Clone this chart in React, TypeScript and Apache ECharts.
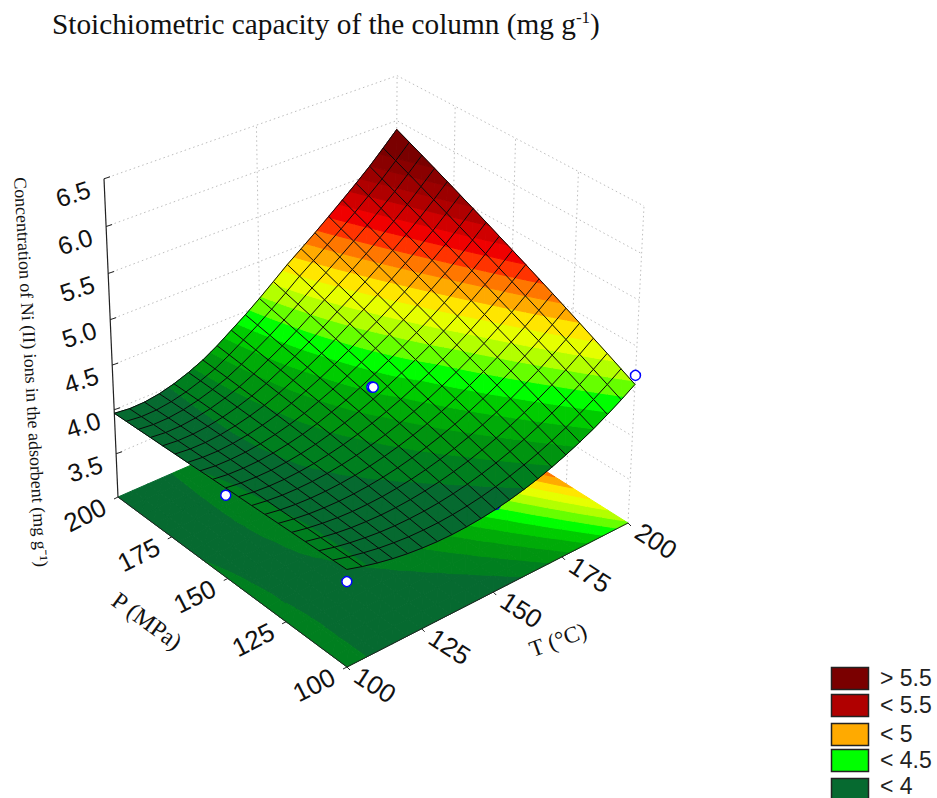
import React, { useEffect, useRef } from "react";
import * as echarts from "echarts";

const T_TICKS = [100, 125, 150, 175, 200];
const P_TICKS = [100, 125, 150, 175, 200];
const Z_TICKS = [3.5, 4.0, 4.5, 5.0, 5.5, 6.0, 6.5];
const Z_FLOOR = 3;
const Z_TOP = 6.5;
const NT = 20, NP = 18;
// rows: P from 100 to 200, columns: T from 100 to 200
const Z_TABLE: number[][] = [
[4.060,4.011,3.970,3.936,3.911,3.894,3.884,3.882,3.889,3.903,3.925,3.955,3.993,4.038,4.092,4.154,4.223,4.300,4.386,4.479,4.580],
[4.054,4.010,3.974,3.944,3.924,3.910,3.906,3.908,3.920,3.938,3.964,3.999,4.041,4.091,4.148,4.214,4.287,4.369,4.458,4.555,4.660],
[4.049,4.008,3.976,3.952,3.935,3.927,3.927,3.934,3.949,3.972,4.003,4.042,4.088,4.142,4.204,4.274,4.352,4.437,4.530,4.631,4.740],
[4.043,4.007,3.978,3.958,3.947,3.942,3.946,3.958,3.978,4.005,4.041,4.083,4.135,4.193,4.259,4.333,4.415,4.504,4.601,4.706,4.818],
[4.038,4.005,3.981,3.964,3.956,3.957,3.965,3.982,4.006,4.038,4.078,4.126,4.181,4.244,4.314,4.392,4.478,4.571,4.672,4.780,4.896],
[4.032,4.002,3.981,3.970,3.966,3.971,3.984,4.005,4.034,4.071,4.116,4.168,4.227,4.295,4.370,4.451,4.541,4.638,4.742,4.854,4.973],
[4.027,3.999,3.982,3.974,3.975,3.984,4.001,4.027,4.061,4.102,4.151,4.208,4.272,4.345,4.423,4.510,4.602,4.704,4.811,4.927,5.049],
[4.021,3.997,3.982,3.978,3.982,3.995,4.018,4.049,4.087,4.133,4.187,4.249,4.317,4.394,4.477,4.567,4.664,4.769,4.880,4.999,5.124],
[4.016,3.993,3.981,3.980,3.989,4.007,4.034,4.069,4.113,4.164,4.223,4.289,4.363,4.442,4.531,4.624,4.726,4.833,4.948,5.070,5.199],
[4.011,3.990,3.981,3.982,3.995,4.017,4.049,4.092,4.143,4.202,4.268,4.342,4.422,4.504,4.593,4.689,4.791,4.900,5.016,5.141,5.273],
[4.005,3.985,3.979,3.984,4.000,4.027,4.063,4.111,4.169,4.232,4.304,4.384,4.469,4.555,4.648,4.747,4.852,4.965,5.083,5.211,5.345],
[3.999,3.980,3.977,3.985,4.005,4.036,4.077,4.130,4.194,4.262,4.340,4.426,4.516,4.606,4.703,4.805,4.914,5.028,5.150,5.280,5.418],
[3.993,3.976,3.973,3.985,4.008,4.044,4.089,4.148,4.218,4.292,4.376,4.466,4.563,4.657,4.758,4.863,4.975,5.091,5.215,5.349,5.489],
[3.988,3.971,3.970,3.984,4.012,4.051,4.101,4.166,4.243,4.322,4.411,4.508,4.610,4.709,4.812,4.921,5.035,5.155,5.280,5.417,5.559],
[3.982,3.966,3.967,3.983,4.014,4.057,4.112,4.183,4.267,4.352,4.447,4.549,4.657,4.759,4.866,4.978,5.096,5.217,5.345,5.484,5.629],
[3.977,3.960,3.962,3.981,4.015,4.063,4.122,4.199,4.289,4.380,4.482,4.591,4.704,4.810,4.920,5.035,5.155,5.279,5.409,5.551,5.698],
[3.971,3.954,3.957,3.978,4.016,4.067,4.132,4.215,4.311,4.409,4.517,4.631,4.751,4.861,4.975,5.093,5.215,5.342,5.473,5.617,5.766],
[3.966,3.947,3.951,3.975,4.015,4.071,4.140,4.230,4.333,4.436,4.551,4.672,4.798,4.911,5.029,5.149,5.273,5.403,5.535,5.682,5.834],
[3.960,3.941,3.945,3.970,4.014,4.074,4.148,4.244,4.354,4.464,4.585,4.713,4.844,4.961,5.081,5.206,5.333,5.463,5.598,5.747,5.900],
];
const LEVELS = [4.0,4.1,4.2,4.3,4.4,4.5,4.6,4.7,4.8,4.9,5.0,5.1,5.2,5.3,5.4,5.5,5.6,5.7];
const BAND_COLORS = ["#066a30","#007f1f","#009410","#00ab08","#00cc00","#00ff00","#66ff00","#b3ff00","#e6ff00","#ffe600","#ffaa00","#ff7700","#ff3300","#f00000","#d00000","#b00000","#9c0000","#8a0000","#7a0000"];
const POINTS_BEHIND = [[150, 100, 3.98]];
const POINTS_FRONT = [[100, 100, 3.93],[100, 150, 3.93],[149.5, 150, 4.41],[150, 150, 4.4],[200, 100, 4.68]];
const LEGEND_LABELS = ["> 5.5","< 5.5","< 5","< 4.5","< 4"];
const LEGEND_COLORS = ["#7a0000","#b00000","#ffaa00","#00ff00","#066a30"];

const C = { f:[347,667], r:[628,523], b:[395,376], l:[118,497], tl:[104,183], tr:[644,208], tb:[395,70] };
function buildCamera() {
  const [x0,y0]=C.f,[x1,y1]=C.r,[x2,y2]=C.b,[x3,y3]=C.l;
  const dx1=x1-x2,dx2=x3-x2,sx=x0-x1+x2-x3,dy1=y1-y2,dy2=y3-y2,sy=y0-y1+y2-y3;
  const den=dx1*dy2-dx2*dy1;
  const g=(sx*dy2-dx2*sy)/den,h=(dx1*sy-sx*dy1)/den;
  const a=x1-x0+g*x1,b=x3-x0+h*x3,c=x0,d=y1-y0+g*y1,e=y3-y0+h*y3,f=y0;
  const rhs=(u:number,v:number,X:number,Y:number)=>{const G=g*u+h*v+1;return [X*G-(a*u+b*v+c),Y*G-(d*u+e*v+f)];};
  const L=rhs(0,1,C.tl[0],C.tl[1]),R=rhs(1,0,C.tr[0],C.tr[1]),B=rhs(1,1,C.tb[0],C.tb[1]);
  const r=-(R[0]-L[0])/(C.tr[0]-C.tl[0]);
  const p=R[0]+C.tr[0]*r;
  const q=((L[1]+C.tl[1]*r)+(R[1]+C.tr[1]*r)+(B[1]+C.tb[1]*r))/3;
  return (u:number,v:number,w:number)=>{const W=g*u+h*v+1+r*w;return [(a*u+b*v+c+p*w)/W,(d*u+e*v+f+q*w)/W];};
}
const cam=buildCamera();
const project=(T:number,P:number,z:number)=>cam((T-100)/100,(P-100)/100,(z-Z_FLOOR)/(Z_TOP-Z_FLOOR));
const gridT=(i:number)=>100+i*100/NT;
const gridP=(j:number)=>100+j*100/NP;

type V=[number,number,number];
function clip(poly:V[],level:number,keepAbove:boolean):V[]{
  const out:V[]=[];
  for(let i=0;i<poly.length;i++){
    const A=poly[i],B=poly[(i+1)%poly.length];
    const ai=keepAbove?A[2]>=level:A[2]<=level,bi=keepAbove?B[2]>=level:B[2]<=level;
    if(ai)out.push(A);
    if(ai!==bi){const t=(level-A[2])/(B[2]-A[2]);out.push([A[0]+t*(B[0]-A[0]),A[1]+t*(B[1]-A[1]),level]);}
  }
  return out;
}
function cellPolys(i:number,j:number,flat:boolean,api:any){
  const vt=(ii:number,jj:number):V=>[gridT(ii),gridP(jj),Z_TABLE[jj][ii]];
  const q=[vt(i,j),vt(i+1,j),vt(i+1,j+1),vt(i,j+1)];
  const tris:V[][]=[[q[0],q[1],q[2]],[q[0],q[2],q[3]]];
  const children:any[]=[];
  for(const tri of tris){
    for(let b=0;b<BAND_COLORS.length;b++){
      let poly:V[]=tri;
      if(b>0)poly=clip(poly,LEVELS[b-1],true);
      if(poly.length>2&&b<LEVELS.length)poly=clip(poly,LEVELS[b],false);
      if(poly.length<3)continue;
      children.push({type:"polygon",shape:{points:poly.map(pt=>api.coord(project(pt[0],pt[1],flat?Z_FLOOR:pt[2])))},
        style:{fill:BAND_COLORS[b],stroke:BAND_COLORS[b],lineWidth:1}});
    }
  }
  return {type:"group",children};
}
const cells:number[][]=[];
for(let j=0;j<NP;j++)for(let i=0;i<NT;i++)cells.push([i,j]);
const meshLines:number[][]=[];
for(let k=0;k<=NT;k++)meshLines.push([0,k]);
for(let k=0;k<=NP;k++)meshLines.push([1,k]);

const custom=(name:string,data:any[],renderItem:any,z:number)=>({type:"custom",name,data,renderItem,z,silent:true,clip:false,coordinateSystem:"cartesian2d",encode:{x:0,y:1}});
const line=(api:any,pts:number[][],stroke:string,w:number,dash?:number[])=>({type:"polyline",shape:{points:pts.map(p=>api.coord(p))},style:{fill:null,stroke,lineWidth:w,lineDash:dash||undefined}});
const label=(api:any,p:number[],text:string,rotDeg:number,fontSize:number,family="Liberation Sans")=>{
  const c=api.coord(p);
  return {type:"text",x:c[0],y:c[1],rotation:rotDeg*Math.PI/180,style:{text,x:0,y:0,align:"center",verticalAlign:"middle",fontSize,fontFamily:family,fill:"#111"}};
};
const DOT=[1.5,3];
const GRID_COLOR="#bdbdbd";

function buildOption(){
  const series:any[]=[];
  series.push(custom("wallsZ",Z_TICKS.map(z=>[z]),(_:any,api:any)=>{const z=api.value(0);
    return {type:"group",children:[line(api,[project(100,200,z),project(200,200,z),project(200,100,z)],GRID_COLOR,1,DOT)]};},1));
  series.push(custom("wallVertical",[[150,200],[200,175],[200,150],[200,125],[200,200],[200,100]],(_:any,api:any)=>{const t=api.value(0),p=api.value(1);
    return line(api,[project(t,p,Z_FLOOR),project(t,p,Z_TOP)],GRID_COLOR,1,DOT);},1));
  series.push(custom("floor",cells,(_:any,api:any)=>cellPolys(api.value(0),api.value(1),true,api),2));
  series.push(custom("axes",[[0]],(_:any,api:any)=>({type:"group",children:[
    line(api,[project(100,200,Z_FLOOR),project(100,200,Z_TOP)],"#222",1.2),
    line(api,[project(100,100,Z_FLOOR),project(100,200,Z_FLOOR)],"#222",1),
    line(api,[project(100,100,Z_FLOOR),project(200,100,Z_FLOOR)],"#222",1),
    ...Z_TICKS.map(z=>{const a=project(100,200,z);return line(api,[a,[a[0]+6,a[1]-2]],"#222",1);}),
    ...P_TICKS.map(p=>{const a=project(100,p,Z_FLOOR);return line(api,[a,[a[0]-4,a[1]+2]],"#222",1);}),
    ...T_TICKS.map(t=>{const a=project(t,100,Z_FLOOR);return line(api,[a,[a[0]+3,a[1]+3]],"#222",1);}),
  ]}),3));
  series.push(custom("hiddenPoints",POINTS_BEHIND,(_:any,api:any)=>{const c=api.coord(project(api.value(0),api.value(1),api.value(2)));
    return {type:"circle",shape:{cx:c[0],cy:c[1],r:5},style:{fill:"#fff",stroke:"#0000ff",lineWidth:1.5}};},4));
  series.push(custom("surface",cells,(_:any,api:any)=>cellPolys(api.value(0),api.value(1),false,api),5));
  series.push(custom("mesh",meshLines,(_:any,api:any)=>{const d=api.value(0),k=api.value(1);const pts:number[][]=[];
    if(d===0){for(let n=0;n<=NP;n++)pts.push(project(gridT(k),gridP(n),Z_TABLE[n][k]));}
    else{for(let n=0;n<=NT;n++)pts.push(project(gridT(n),gridP(k),Z_TABLE[k][n]));}
    return line(api,pts,"#0a0a0a",1);},6));
  series.push(custom("points",POINTS_FRONT,(_:any,api:any)=>{const c=api.coord(project(api.value(0),api.value(1),api.value(2)));
    return {type:"circle",shape:{cx:c[0],cy:c[1],r:5},style:{fill:"#fff",stroke:"#0000ff",lineWidth:1.5}};},7));
  series.push(custom("zLabels",Z_TICKS.map(z=>[z]),(_:any,api:any)=>{const z=api.value(0);const a=project(100,200,z);
    return label(api,[a[0]-31,a[1]+15],z.toFixed(1),18,25);},8));
  series.push(custom("pLabels",P_TICKS.map(p=>[p]),(_:any,api:any)=>{const p=api.value(0);const a=project(100,p,Z_FLOOR);
    return label(api,[a[0]-33,a[1]+18],String(p),27,26);},8));
  series.push(custom("tLabels",T_TICKS.map(t=>[t]),(_:any,api:any)=>{const t=api.value(0);const a=project(t,100,Z_FLOOR);
    return label(api,[a[0]+28,a[1]+18],String(t),-33,26);},8));
  return {
    animation:false,
    backgroundColor:"#fff",
    title:{left:47,top:4,text:"{a|Stoichiometric capacity of the column (mg g}{s|-1}{a|)}",textStyle:{fontWeight:"normal",rich:{a:{fontFamily:"Liberation Serif",fontSize:29.3,fontWeight:"normal",color:"#111"},s:{fontFamily:"Liberation Serif",fontSize:17,fontWeight:"normal",color:"#111",verticalAlign:"top",padding:[0,0,10,0]}}}},
    grid:{left:0,right:0,top:0,bottom:0},
    xAxis:{type:"value",min:0,max:937,show:false},
    yAxis:{type:"value",min:0,max:798,inverse:true,show:false},
    series,
    graphic:[
      {type:"text",x:31,y:372,rotation:-86.8*Math.PI/180,z:20,style:{text:"Concentration of Ni (II) ions in the adsorbent (mg g⁻¹)",align:"center",verticalAlign:"middle",fontFamily:"Liberation Serif",fontSize:18,fill:"#111"}},
      {type:"text",x:147,y:621,rotation:-36*Math.PI/180,z:20,style:{text:"P (MPa)",align:"center",verticalAlign:"middle",fontFamily:"Liberation Serif",fontSize:24,fill:"#111"}},
      {type:"text",x:558,y:640,rotation:20*Math.PI/180,z:20,style:{text:"T (°C)",align:"center",verticalAlign:"middle",fontFamily:"Liberation Serif",fontSize:23,fill:"#111"}},
      ...LEGEND_LABELS.flatMap((t,i)=>{const ys=[667,694,723,749,778];return [
        {type:"rect",z:20,shape:{x:831.5,y:ys[i]+.5,width:37,height:i===4?24:22},style:{fill:LEGEND_COLORS[i],stroke:"#222",lineWidth:1.5}},
        {type:"text",z:20,x:880,y:i===4?ys[i]+8:ys[i]+11,style:{text:t,verticalAlign:"middle",fontFamily:"Liberation Sans",fontSize:23,fill:"#222"}},
      ];}),
    ],
  };
}

export default function App(){
  const ref=useRef<HTMLDivElement>(null);
  useEffect(()=>{
    document.body.style.margin="0";
    const chart=echarts.init(ref.current!,undefined,{renderer:"svg"});
    chart.setOption(buildOption());
    return ()=>chart.dispose();
  },[]);
  return <div ref={ref} style={{width:937,height:798,overflow:"hidden"}}/>;
}
